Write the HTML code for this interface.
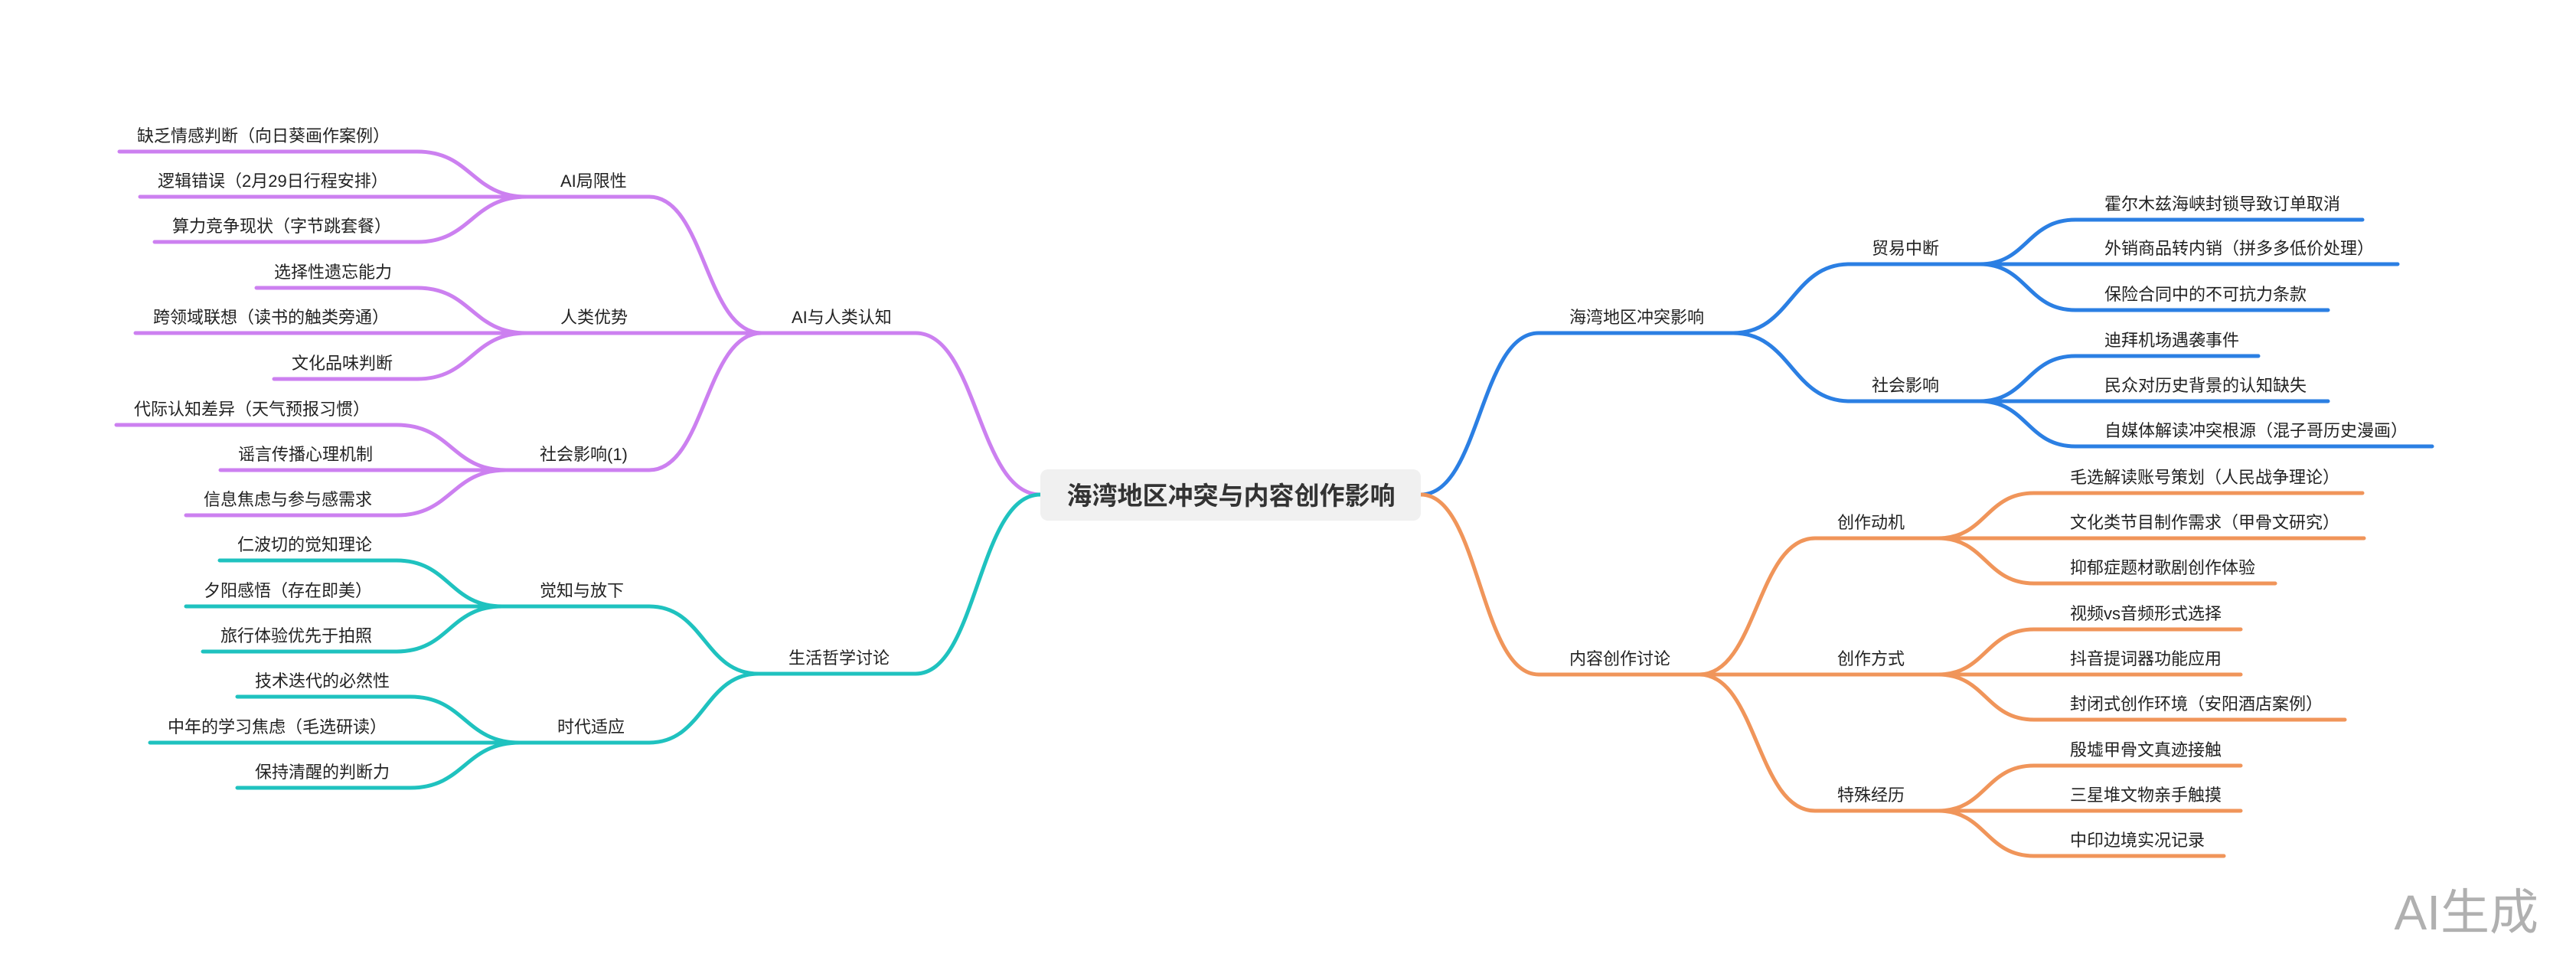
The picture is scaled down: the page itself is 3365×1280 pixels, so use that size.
<!DOCTYPE html>
<html><head><meta charset="utf-8"><style>
html,body{margin:0;padding:0;background:#fff;}
svg{display:block;}
text{font-family:"Liberation Sans","Noto Sans CJK SC",sans-serif;font-size:22px;fill:#222;}
</style></head><body>
<svg width="3365" height="1280" viewBox="0 0 3365 1280" xmlns="http://www.w3.org/2000/svg">
<g fill="none" stroke-width="5" stroke-linecap="round">
<!-- purple -->
<g stroke="#cc80f0">
<path d="M1359 646 C1277 646 1277 435 1196 435 L995 435"/>
<path d="M995 435 C921 435 921 257 848 257 L688 257"/>
<path d="M995 435 L688 435"/>
<path d="M995 435 C921 435 921 614 848 614 L661 614"/>
<path d="M688 257 C616 257 616 198 545 198 L156 198"/>
<path d="M688 257 L183 257"/>
<path d="M688 257 C616 257 616 316 545 316 L202 316"/>
<path d="M688 435 C616 435 616 376 545 376 L335 376"/>
<path d="M688 435 L177 435"/>
<path d="M688 435 C616 435 616 495 545 495 L358 495"/>
<path d="M661 614 C590 614 590 555 518 555 L152 555"/>
<path d="M661 614 L288 614"/>
<path d="M661 614 C590 614 590 673 518 673 L243 673"/>
</g>
<!-- teal -->
<g stroke="#1fc2bf">
<path d="M1359 646 C1277 646 1277 880 1196 880 L991 880"/>
<path d="M991 880 C920 880 920 792 848 792 L656 792"/>
<path d="M991 880 C920 880 920 970 848 970 L679 970"/>
<path d="M656 792 C587 792 587 732 518 732 L287 732"/>
<path d="M656 792 L243 792"/>
<path d="M656 792 C587 792 587 851 518 851 L265 851"/>
<path d="M679 970 C607 970 607 910 536 910 L310 910"/>
<path d="M679 970 L196 970"/>
<path d="M679 970 C607 970 607 1029 536 1029 L310 1029"/>
</g>
<!-- blue -->
<g stroke="#2b7fe3">
<path d="M1856 646 C1933 646 1933 435 2010 435 L2264 435"/>
<path d="M2264 435 C2340 435 2340 345 2416 345 L2586 345"/>
<path d="M2264 435 C2340 435 2340 524 2416 524 L2586 524"/>
<path d="M2586 345 C2648 345 2648 287 2711 287 L3086 287"/>
<path d="M2586 345 L3132 345"/>
<path d="M2586 345 C2648 345 2648 405 2711 405 L3041 405"/>
<path d="M2586 524 C2648 524 2648 465 2711 465 L2950 465"/>
<path d="M2586 524 L3041 524"/>
<path d="M2586 524 C2648 524 2648 583 2711 583 L3177 583"/>
</g>
<!-- orange -->
<g stroke="#f0955a">
<path d="M1856 646 C1933 646 1933 881 2010 881 L2220 881"/>
<path d="M2220 881 C2295 881 2295 703 2371 703 L2532 703"/>
<path d="M2220 881 L2532 881"/>
<path d="M2220 881 C2295 881 2295 1059 2371 1059 L2532 1059"/>
<path d="M2532 703 C2594 703 2594 644 2657 644 L3086 644"/>
<path d="M2532 703 L3088 703"/>
<path d="M2532 703 C2594 703 2594 762 2657 762 L2972 762"/>
<path d="M2532 881 C2594 881 2594 822 2657 822 L2927 822"/>
<path d="M2532 881 L2927 881"/>
<path d="M2532 881 C2594 881 2594 940 2657 940 L3063 940"/>
<path d="M2532 1059 C2594 1059 2594 1000 2657 1000 L2927 1000"/>
<path d="M2532 1059 L2927 1059"/>
<path d="M2532 1059 C2594 1059 2594 1118 2657 1118 L2905 1118"/>
</g>
</g>
<!-- root -->
<rect x="1359" y="613" width="497" height="67" rx="10" fill="#f0f0f0"/>
<text x="1608" y="659" text-anchor="middle" style="font-size:33px;font-weight:bold;fill:#333">海湾地区冲突与内容创作影响</text>
<!-- left texts -->
<text x="1034" y="422">AI与人类认知</text>
<text x="732" y="244">AI局限性</text>
<text x="732" y="422">人类优势</text>
<text x="705" y="601">社会影响(1)</text>
<text x="179" y="185">缺乏情感判断（向日葵画作案例）</text>
<text x="206" y="244">逻辑错误（2月29日行程安排）</text>
<text x="225" y="303">算力竞争现状（字节跳套餐）</text>
<text x="358" y="363">选择性遗忘能力</text>
<text x="200" y="422">跨领域联想（读书的触类旁通）</text>
<text x="381" y="482">文化品味判断</text>
<text x="175" y="542">代际认知差异（天气预报习惯）</text>
<text x="311" y="601">谣言传播心理机制</text>
<text x="266" y="660">信息焦虑与参与感需求</text>
<text x="1030" y="867">生活哲学讨论</text>
<text x="705" y="779">觉知与放下</text>
<text x="728" y="957">时代适应</text>
<text x="310" y="719">仁波切的觉知理论</text>
<text x="266" y="779">夕阳感悟（存在即美）</text>
<text x="288" y="838">旅行体验优先于拍照</text>
<text x="333" y="897">技术迭代的必然性</text>
<text x="219" y="957">中年的学习焦虑（毛选研读）</text>
<text x="333" y="1016">保持清醒的判断力</text>
<!-- right texts -->
<text x="2050" y="422">海湾地区冲突影响</text>
<text x="2445" y="332">贸易中断</text>
<text x="2445" y="511">社会影响</text>
<text x="2749" y="274">霍尔木兹海峡封锁导致订单取消</text>
<text x="2749" y="332">外销商品转内销（拼多多低价处理）</text>
<text x="2749" y="392">保险合同中的不可抗力条款</text>
<text x="2749" y="452">迪拜机场遇袭事件</text>
<text x="2749" y="511">民众对历史背景的认知缺失</text>
<text x="2749" y="570">自媒体解读冲突根源（混子哥历史漫画）</text>
<text x="2050" y="868">内容创作讨论</text>
<text x="2400" y="690">创作动机</text>
<text x="2400" y="868">创作方式</text>
<text x="2400" y="1046">特殊经历</text>
<text x="2704" y="631">毛选解读账号策划（人民战争理论）</text>
<text x="2704" y="690">文化类节目制作需求（甲骨文研究）</text>
<text x="2704" y="749">抑郁症题材歌剧创作体验</text>
<text x="2704" y="809">视频vs音频形式选择</text>
<text x="2704" y="868">抖音提词器功能应用</text>
<text x="2704" y="927">封闭式创作环境（安阳酒店案例）</text>
<text x="2704" y="987">殷墟甲骨文真迹接触</text>
<text x="2704" y="1046">三星堆文物亲手触摸</text>
<text x="2704" y="1105">中印边境实况记录</text>
<text x="3316" y="1214" text-anchor="end" style="font-size:64px;fill:#b0b0b0">AI生成</text>
</svg>
</body></html>
